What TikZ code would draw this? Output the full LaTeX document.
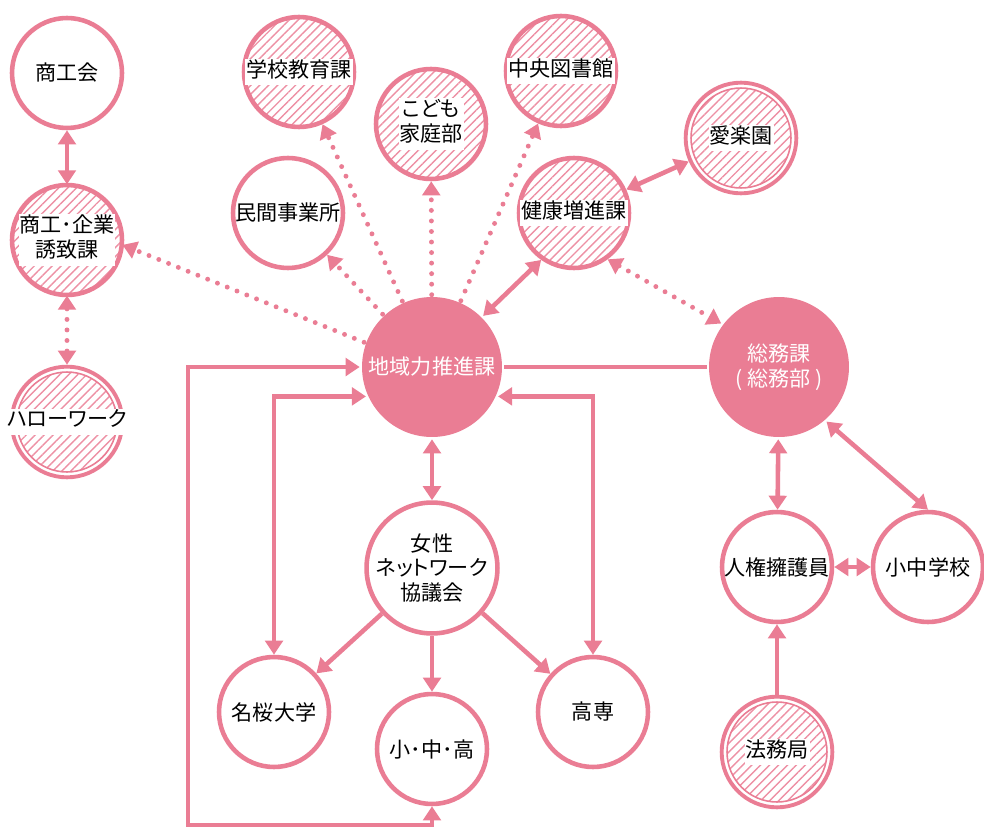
\documentclass[tikz,border=0pt]{standalone}
\usepackage{fontspec}
\setmainfont{Noto Sans CJK JP}[RawFeature=+palt]
\usetikzlibrary{arrows.meta,patterns.meta}

\definecolor{rose}{RGB}{234,125,148}
\newcommand{\wt}[1]{\makebox[0pt]{\setlength{\fboxsep}{0.5pt}\colorbox{white}{\begin{tabular}{@{}c@{}}#1\end{tabular}}}}

\tikzset{
  base/.style={circle, draw=rose, line width=2.6pt, minimum size=2.2cm, inner sep=0pt,
    align=center, font=\fontsize{12}{14}\selectfont},
  plain/.style={base, fill=white},
  hatched/.style={base, pattern={Lines[angle=45,distance=3.6pt,line width=0.8pt]}, pattern color=rose!85},
  doubled/.style={hatched, line width=0.9pt, minimum size=2.2cm-5.7pt, outer sep=4.15pt,
    append after command={\pgfextra{\draw[rose, line width=2.2pt] (\tikzlastnode.center) circle[radius=1.1cm+0.2pt];}}},
  hub/.style={base, draw=none, fill=rose, minimum size=2.8cm, text=white},
  link/.style={draw=rose, line width=2.6pt},
  dots/.style={draw=rose, line width=2.8pt, dash pattern=on 0pt off 6pt, line cap=round},
  >={Triangle[length=8pt,width=10pt]}
}

\begin{document}
\begin{tikzpicture}[x=0.02cm, y=-0.02cm]
\useasboundingbox (0,0) rectangle (984,828);

% left column
\node[plain] (shokokai) at (67,73) {商工会};
\node[hatched] (kigyo) at (67,240) {\wt{商工･企業\\誘致課}};
\node[doubled] (hello) at (67,422) {\wt{ハローワーク}};

% upper ring
\node[hatched] (gakko) at (299,72) {\wt{学校教育課}};
\node[hatched] (kodomo) at (431,124) {\wt{こども\\家庭部}};
\node[hatched] (tosho) at (561,71) {\wt{中央図書館}};
\node[plain] (minkan) at (288,213) {民間事業所};
\node[hatched] (kenko) at (574,213) {\wt{健康増進課}};
\node[doubled] (airaku) at (741,138) {\wt{愛楽園}};

% hubs
\node[hub] (chiiki) at (432,367) {地域力推進課};
\node[hub] (somu) at (779,367) {総務課\\( 総務部 )};

% lower part
\node[plain] (josei) at (432,568) {女性\\ネットワーク\\協議会};
\node[plain] (meio) at (274,712) {名桜大学};
\node[plain] (shochuko) at (432,749) {小･中･高};
\node[plain] (kosen) at (593,712) {高専};
\node[plain] (jinken) at (777,567) {人権擁護員};
\node[plain] (shochu) at (928,567) {小中学校};
\node[doubled] (homu) at (777,752) {\wt{法務局}};
\coordinate (loop) at (188,825);

% connectors
\draw[link,<->] (shokokai) -- (kigyo);
\draw[dots,<->] (kigyo) -- (hello);
\draw[dots,->] (chiiki.160) -- (kigyo.-5);
\draw[dots,->] (chiiki) -- (minkan);
\draw[dots,->] (chiiki) -- (gakko);
\draw[dots,->] (chiiki) -- (kodomo);
\draw[dots,->] (chiiki) -- (tosho);
\draw[link,<->] (chiiki.45) -- (kenko.235);
\draw[link,<->] (kenko) -- (airaku);
\draw[dots,<->] (kenko.-54) -- (somu.143);
\draw[link] (chiiki) -- (somu);

\draw[link,<->] (chiiki) -- (josei);
\draw[link,->] (josei) -- (meio);
\draw[link,->] (josei) -- (shochuko);
\draw[link,->] (josei) -- (kosen);
\draw[link,<->] (chiiki.204) -| (meio.north);
\draw[link,<->] (chiiki.-24) -| (kosen.north);
\draw[link,<->] (chiiki.west) -| (loop) -| (shochuko.south);

\draw[link,<->] (somu) -- (jinken);
\draw[link,<->] (somu.-49) -- (shochu.north);
\draw[link,<->] (jinken) -- (shochu);
\draw[link,->] (homu) -- (jinken);
\end{tikzpicture}
\end{document}
